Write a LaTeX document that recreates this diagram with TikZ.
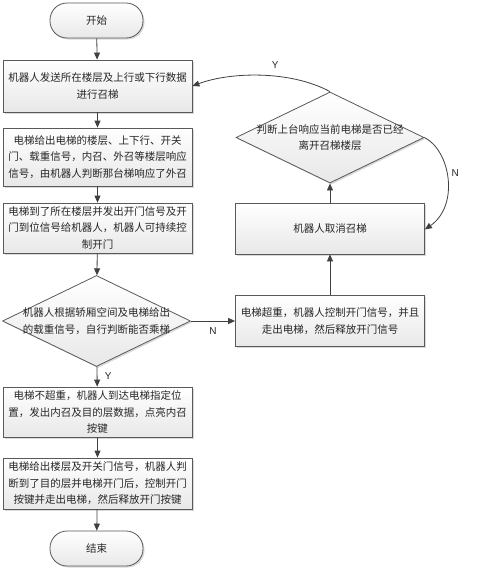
\documentclass[tikz,border=0pt]{standalone}
\usepackage{fontspec}
\setmainfont{Noto Sans CJK SC}
\newfontfamily\latinsans{Liberation Sans}
\usetikzlibrary{shapes.geometric,arrows.meta,shadows}
\begin{document}
\begin{tikzpicture}[x=1pt,y=1pt,
  cjk/.style={font=\fontsize{10.5}{16.5}\selectfont, text=black!85},
  boxstyle/.style={draw=black!65, line width=0.8pt, top color=white, bottom color=gray!18,
     drop shadow={shadow xshift=1.5pt,shadow yshift=-1.5pt,opacity=0.3}},
  procbox/.style={boxstyle, rectangle, cjk, align=center, inner sep=2pt,
     minimum width=189pt, text width=183pt},
  termbox/.style={boxstyle, rectangle, rounded corners=17pt, cjk,
     minimum width=93pt, minimum height=35pt},
  decbox/.style={boxstyle, diamond, minimum width=188pt, minimum height=91pt, inner sep=0pt},
  flow/.style={draw=black!75, line width=0.8pt, -{Triangle[length=7pt,width=6pt]}},
  yn/.style={font=\latinsans\fontsize{10}{12}\selectfont, text=black!85}
]
\useasboundingbox (0,0) rectangle (490,-573);

\node[termbox] (start) at (96.5,-20.5) {开始};
\node[procbox, minimum height=52pt] (b1) at (97.5,-86) {机器人发送所在楼层及上行或下行数据\\进行召梯};
\node[procbox, minimum height=58pt] (b2) at (97.5,-157) {电梯给出电梯的楼层、上下行、开关\\门、载重信号，内召、外召等楼层响应\\信号，由机器人判断那台梯响应了外召};
\node[procbox, minimum height=50pt] (b3) at (97.5,-228) {电梯到了所在楼层并发出开门信号及开\\门到位信号给机器人，机器人可持续控\\制开门};
\node[decbox] (d1) at (96.5,-321) {};
\node[cjk, align=center] (d1t) at (d1.center) {机器人根据轿厢空间及电梯给出\\的载重信号，自行判断能否乘梯};
\node[procbox, minimum height=50pt] (b4) at (97.5,-412) {电梯不超重，机器人到达电梯指定位\\置，发出内召及目的层数据，点亮内召\\按键};
\node[procbox, minimum height=51pt] (b5) at (97.5,-483.5) {电梯给出楼层及开关门信号，机器人判\\断到了目的层并电梯开门后，控制开门\\按键并走出电梯，然后释放开门按键};
\node[termbox] (end) at (96.5,-548.5) {结束};

\node[decbox] (d2) at (330,-137.5) {};
\node[cjk, align=center] (d2t) at (d2.center) {判断上台响应当前电梯是否已经\\离开召梯楼层};
\node[procbox, minimum height=51pt] (r1) at (330,-228.5) {机器人取消召梯};
\node[procbox, minimum height=51pt] (r2) at (330,-321) {电梯超重，机器人控制开门信号，并且\\走出电梯，然后释放开门信号};

\draw[flow] (start) -- (b1);
\draw[flow] (b1) -- (b2);
\draw[flow] (b2) -- (b3);
\draw[flow] (b3) -- (d1);
\draw[flow] (d1) -- node[yn, right, pos=0.45, xshift=4pt] {Y} (b4);
\draw[flow] (b4) -- (b5);
\draw[flow] (b5) -- (end);
\draw[flow] (d1.east) -- node[yn, below, yshift=-3pt] {N} (r2.west);
\draw[flow] (r2) -- (r1);
\draw[flow] (r1) -- (d2.south);
\draw[flow] (d2.north) .. controls (290,-70) and (230,-72) .. node[yn, pos=0.4, above, yshift=4pt] {Y} (b1.east);
\draw[flow] (d2.east) .. controls (450,-150) and (460,-205) .. node[yn, pos=0.45, right, xshift=1pt] {N} ([yshift=-1pt]r1.east);
\end{tikzpicture}
\end{document}
